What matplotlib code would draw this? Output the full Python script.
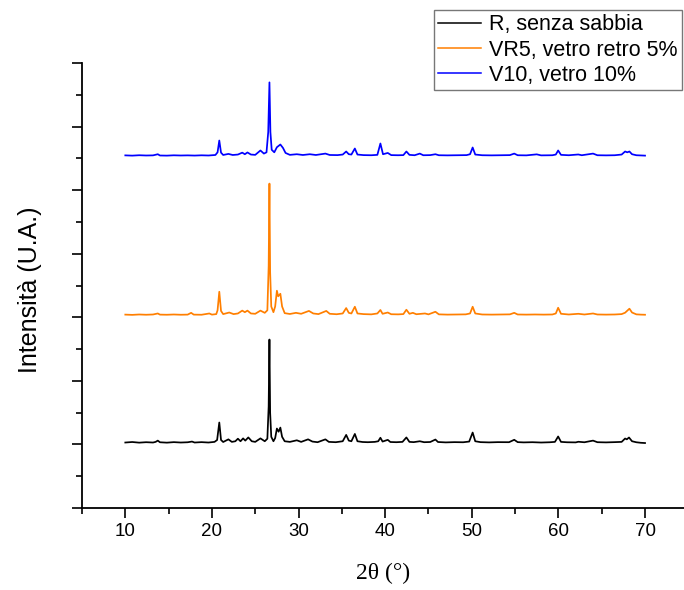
import matplotlib
matplotlib.use("Agg")
import matplotlib.pyplot as plt
from matplotlib.ticker import MultipleLocator, NullFormatter

# --- XRD patterns: 2theta (deg) and intensity (counts) ---
r_theta = [10.0, 10.8, 11.6, 12.4, 13.2, 13.5, 13.75, 14.0, 14.8, 15.6, 16.4, 17.2, 17.7, 18.0,
           18.8, 19.6, 20.3, 20.6, 20.85, 21.05, 21.3, 21.9, 22.3, 22.7, 23.0, 23.3, 23.6, 23.85,
           24.2, 24.6, 25.0, 25.6, 26.1, 26.4, 26.55, 26.64, 26.72, 26.85, 27.1, 27.3, 27.5, 27.7,
           27.9, 28.1, 28.4, 29.0, 29.8, 30.3, 31.1, 31.6, 32.2, 33.1, 33.5, 34.3, 35.1, 35.5,
           35.8, 36.1, 36.5, 36.8, 37.4, 38.0, 38.8, 39.2, 39.45, 39.7, 40.3, 40.6, 41.3, 42.0,
           42.45, 42.8, 43.3, 44.0, 44.5, 45.2, 45.8, 46.1, 47.0, 48.0, 49.0, 49.7, 50.1, 50.4,
           51.0, 52.0, 53.0, 54.3, 54.9, 55.3, 56.0, 57.0, 58.0, 59.0, 59.6, 59.97, 60.3, 61.0,
           62.0, 62.3, 63.0, 64.0, 64.5, 65.5, 66.5, 67.3, 67.7, 67.9, 68.15, 68.5, 69.0, 69.5,
           70.0]
r_int = [130, 138, 128, 135, 130, 140, 160, 134, 128, 136, 130, 134, 145, 130,
         136, 130, 140, 170, 445, 170, 138, 180, 140, 150, 190, 150, 195, 160,
         210, 150, 140, 195, 150, 190, 700, 1750, 600, 220, 150, 200, 350, 300,
         365, 220, 150, 140, 165, 140, 180, 145, 135, 180, 140, 135, 150, 250,
         160, 150, 265, 150, 138, 135, 140, 150, 205, 145, 172, 138, 135, 140,
         210, 140, 136, 150, 135, 138, 177, 138, 132, 136, 134, 145, 287, 150,
         136, 132, 136, 135, 173, 136, 132, 135, 130, 134, 140, 225, 140, 134,
         132, 142, 134, 160, 135, 132, 136, 140, 193, 180, 209, 150, 134, 126,
         122]

vr5_theta = [10.0, 10.8, 11.6, 12.4, 13.2, 13.75, 14.0, 14.8, 15.6, 16.4, 17.2, 17.6, 17.9, 18.8,
             19.7, 20.0, 20.5, 20.65, 20.85, 21.05, 21.3, 22.0, 22.5, 23.0, 23.5, 23.8, 24.1, 24.5,
             25.0, 25.6, 26.1, 26.4, 26.55, 26.64, 26.72, 26.85, 27.1, 27.3, 27.5, 27.65, 27.9, 28.1,
             28.4, 29.0, 29.7, 30.3, 31.2, 31.7, 32.3, 33.2, 33.6, 34.4, 35.1, 35.5, 35.8, 36.1,
             36.5, 36.8, 37.5, 38.4, 39.1, 39.45, 39.7, 40.3, 40.7, 41.5, 42.1, 42.45, 42.8, 43.2,
             43.6, 44.6, 45.0, 45.8, 46.2, 47.2, 48.3, 49.3, 49.8, 50.1, 50.4, 51.2, 52.3, 53.4,
             54.4, 54.9, 55.3, 56.3, 57.3, 58.3, 59.3, 59.7, 59.97, 60.3, 61.2, 62.3, 63.0, 64.0,
             64.5, 65.5, 66.5, 67.3, 67.7, 68.0, 68.2, 68.5, 69.0, 69.5, 70.0]
vr5_int = [132, 128, 134, 130, 134, 150, 132, 130, 134, 130, 132, 160, 132, 130,
           150, 132, 140, 200, 492, 190, 140, 165, 140, 150, 195, 170, 195, 150,
           145, 195, 160, 200, 900, 2193, 800, 260, 170, 260, 508, 420, 460, 260,
           155, 142, 160, 145, 190, 150, 140, 190, 145, 138, 150, 235, 160, 150,
           256, 150, 140, 136, 150, 205, 145, 165, 138, 136, 140, 209, 145, 160,
           138, 150, 136, 177, 136, 132, 134, 136, 150, 256, 150, 134, 132, 134,
           136, 160, 134, 132, 134, 132, 134, 150, 240, 145, 134, 145, 134, 150,
           134, 132, 134, 140, 162, 200, 225, 165, 136, 132, 130]

v10_theta = [10.0, 10.8, 11.6, 12.4, 13.2, 13.75, 14.0, 14.8, 15.6, 16.4, 17.2, 18.0, 18.8, 19.6,
             20.4, 20.65, 20.85, 21.05, 21.3, 21.9, 22.4, 23.0, 23.5, 23.8, 24.1, 24.5, 25.0, 25.6,
             26.0, 26.3, 26.5, 26.64, 26.75, 26.9, 27.2, 27.5, 27.9, 28.2, 28.5, 29.0, 29.8, 30.5,
             31.3, 32.0, 33.1, 33.6, 34.5, 35.1, 35.5, 35.8, 36.1, 36.5, 36.8, 37.5, 38.4, 39.1,
             39.45, 39.75, 40.3, 40.7, 41.5, 42.1, 42.45, 42.8, 43.4, 44.0, 44.4, 45.2, 45.8, 46.2,
             47.2, 48.3, 49.4, 49.8, 50.1, 50.4, 51.2, 52.3, 53.4, 54.4, 54.9, 55.3, 56.3, 57.5,
             58.0, 59.3, 59.7, 59.97, 60.3, 61.2, 62.3, 62.7, 64.0, 64.5, 65.5, 66.5, 67.3, 67.7,
             67.95, 68.2, 68.5, 69.0, 69.5, 70.0]
v10_int = [132, 128, 134, 130, 132, 150, 130, 128, 133, 130, 132, 129, 133, 130,
           138, 180, 366, 175, 138, 155, 138, 145, 175, 150, 178, 145, 140, 209,
           160, 180, 500, 1280, 500, 220, 180, 260, 303, 250, 170, 140, 150, 138,
           150, 138, 160, 138, 136, 145, 193, 150, 145, 240, 145, 136, 134, 140,
           319, 150, 170, 136, 134, 136, 193, 140, 134, 160, 134, 136, 150, 134,
           132, 134, 136, 150, 256, 145, 134, 132, 134, 136, 160, 134, 132, 148,
           132, 134, 145, 209, 140, 134, 146, 134, 160, 134, 132, 134, 145, 193,
           180, 193, 150, 134, 131, 128]

labels = ["R, senza sabbia", "VR5, vetro retro 5%", "V10, vetro 10%"]
colors = ["#000000", "#FF7F00", "#0000FF"]
offsets = [900, 2910, 5415]

plt.rcParams["font.family"] = ["Liberation Sans", "DejaVu Sans"]

fig = plt.figure(figsize=(6.84, 5.90), dpi=100)
ax = fig.add_axes([82 / 684, 1 - 508 / 590, 1 - 82 / 684, (508 - 63) / 590])

series = [(r_theta, r_int), (vr5_theta, vr5_int), (v10_theta, v10_int)]
for (tt, ii), lab, col, off in zip(series, labels, colors, offsets):
    ax.plot(tt, [v + off for v in ii], color=col, lw=1.25, label=lab)

ax.set_xlim(5, 74.5)
ax.set_ylim(0, 7000)

ax.xaxis.set_major_locator(MultipleLocator(10))
ax.xaxis.set_minor_locator(MultipleLocator(5))
ax.yaxis.set_major_locator(MultipleLocator(1000))
ax.yaxis.set_minor_locator(MultipleLocator(500))
ax.yaxis.set_major_formatter(NullFormatter())

for side in ("top", "right"):
    ax.spines[side].set_visible(False)
for side in ("left", "bottom"):
    ax.spines[side].set_linewidth(1.3)

ax.tick_params(which="major", direction="out", length=7, width=1.2, labelsize=13.5, pad=4)
ax.tick_params(which="minor", direction="out", length=4, width=1.2)

fig.text(383 / 684, 1 - 573 / 590, "2θ (°)", ha="center", va="center",
         fontsize=17, family=["Liberation Serif", "DejaVu Serif"])
fig.text(30 / 684, 1 - 290 / 590, "Intensità (U.A.)", ha="center", va="center",
         rotation=90, fontsize=18)

leg = fig.legend(loc="upper left", bbox_to_anchor=(434 / 684, 1 - 10 / 590),
                 fontsize=15.5, frameon=True, fancybox=False, borderpad=0.2,
                 labelspacing=0.2, handlelength=2.0, handletextpad=0.35,
                 borderaxespad=0)
leg.get_frame().set_edgecolor("#555555")
leg.get_frame().set_linewidth(1.0)
for h in leg.get_lines():
    h.set_linewidth(1.1)

fig.savefig("out.png", dpi=100)
